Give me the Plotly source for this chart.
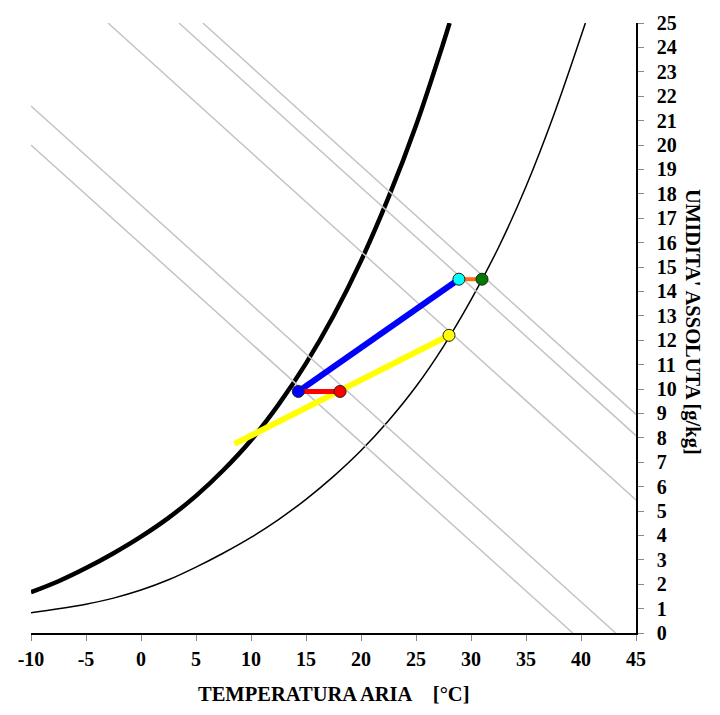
import plotly.graph_objects as go

# Saturation curve (thick) and 50% relative-humidity curve (thin): temperature [°C] vs absolute humidity [g/kg]
sat_T = [-10, -7.5, -5, -2.5, 0, 2.5, 5, 7.5, 10, 12.5, 15, 17.5, 20, 22.5, 25, 27.5, 28.05]
sat_W = [1.67, 2.12, 2.66, 3.27, 3.95, 4.72, 5.62, 6.68, 7.9, 9.36, 11.05, 13.0, 15.25, 17.85, 20.8, 24.2, 25.0]

half_T = [-10, -7.5, -5, -2.5, 0, 2.5, 5, 7.5, 10, 12.5, 15, 17.5, 20, 22.5, 25, 27.5, 30, 32.5, 35, 37.5, 40.4]
half_W = [0.83, 0.99, 1.18, 1.43, 1.76, 2.18, 2.7, 3.28, 3.92, 4.65, 5.48, 6.42, 7.48, 8.7, 10.1,
          11.75, 13.65, 15.8, 18.3, 21.2, 25.0]

# Constant-enthalpy lines: start and end points (temperature, humidity)
enth_T_start = [-10, -10, -3.0, 3.45, 5.62]
enth_W_start = [20.0, 21.6, 25, 25, 25]
enth_T_end = [39.25, 43.15, 45, 45, 45]
enth_W_end = [0, 0, 5.45, 8.09, 8.96]

# Air-handling states
state_names = ["blue", "red", "cyan", "green", "yellow"]
state_T = [14.3, 18.1, 28.9, 31.0, 28.0]
state_W = [9.9, 9.9, 14.5, 14.5, 12.2]
state_colors = ["#0000FF", "#FF0000", "#00FFFF", "#007A00", "#FFFF00"]

# Mixing line (outdoor side to the yellow state)
mix_T = [8.5, 28.0]
mix_W = [7.75, 12.2]

# Tick labels
x_ticks = list(range(-10, 50, 5))
y_ticks = list(range(0, 26, 1))

FONT = "Liberation Serif"

fig = go.Figure()

# humidity curves
fig.add_trace(go.Scatter(x=half_T, y=half_W, mode="lines",
                         line=dict(color="black", width=1.5, shape="spline", smoothing=1.0),
                         hoverinfo="skip"))
fig.add_trace(go.Scatter(x=sat_T, y=sat_W, mode="lines",
                         line=dict(color="black", width=4.5, shape="spline", smoothing=1.0),
                         hoverinfo="skip"))

# enthalpy lines
for t0, w0, t1, w1 in zip(enth_T_start, enth_W_start, enth_T_end, enth_W_end):
    fig.add_trace(go.Scatter(x=[t0, t1], y=[w0, w1], mode="lines",
                             line=dict(color="#c4c4c4", width=1.5),
                             hoverinfo="skip"))

idx = {n: i for i, n in enumerate(state_names)}

def seg(a, b, color, width):
    fig.add_trace(go.Scatter(x=[state_T[idx[a]], state_T[idx[b]]],
                             y=[state_W[idx[a]], state_W[idx[b]]],
                             mode="lines", line=dict(color=color, width=width),
                             hoverinfo="skip"))

# process lines
fig.add_trace(go.Scatter(x=mix_T, y=mix_W, mode="lines",
                         line=dict(color="#FFFF00", width=6), hoverinfo="skip"))
seg("blue", "cyan", "#0000FF", 6)
seg("blue", "red", "#FF0000", 5)
seg("cyan", "green", "#FF6A10", 4)

# state points
fig.add_trace(go.Scatter(x=state_T, y=state_W, mode="markers",
                         marker=dict(size=12, color=state_colors,
                                     line=dict(color="#222222", width=1)),
                         hoverinfo="skip"))

tickfont = dict(family=FONT, size=20, color="black", weight="bold")
titlefont = dict(family=FONT, size=20.5, color="black", weight="bold")

fig.update_layout(
    width=720, height=715,
    margin=dict(l=31, r=84, t=19, b=82),
    paper_bgcolor="white", plot_bgcolor="white",
    showlegend=False,
    xaxis=dict(range=[-10, 45], tickvals=x_ticks, ticktext=[str(v) for v in x_ticks],
               showgrid=False, zeroline=False, showline=True, linecolor="black",
               linewidth=1.5, ticks="outside", ticklen=6, tickcolor="#888888",
               tickfont=tickfont, ticklabelstandoff=1),
    yaxis=dict(range=[0, 25], tickvals=y_ticks, ticktext=[str(v) for v in y_ticks],
               side="right", showgrid=False, zeroline=False, showline=True,
               linecolor="black", linewidth=1.5, ticks="outside", ticklen=6,
               tickcolor="#888888", tickfont=tickfont, ticklabelstandoff=9),
    annotations=[
        dict(text="TEMPERATURA ARIA\u00a0\u00a0\u00a0\u00a0[°C]", xref="paper", yref="paper",
             x=0.5, y=0, yshift=-61, showarrow=False, xanchor="center", yanchor="middle",
             font=titlefont),
        dict(text="UMIDITA' ASSOLUTA [g/kg]", xref="paper", yref="paper",
             x=1, xshift=57, y=0.5, yshift=6, showarrow=False, textangle=90,
             xanchor="center", yanchor="middle", font=titlefont),
    ],
)

fig.write_html("out.html")
